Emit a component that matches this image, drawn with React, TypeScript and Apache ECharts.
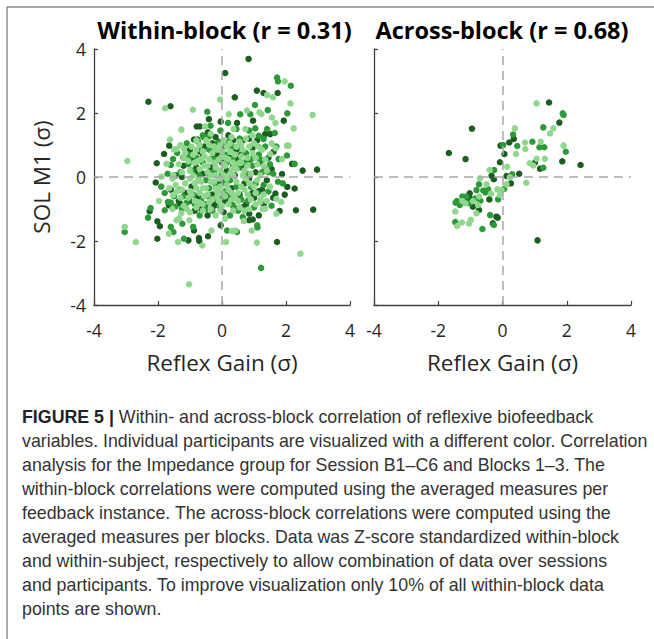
import React, { useEffect, useRef } from "react";
import * as echarts from "echarts";

// ---------- data ----------
const axisTicks = [-4, -2, 0, 2, 4];
const titles = ["Within-block (r = 0.31)", "Across-block (r = 0.68)"];
const xAxisName = "Reflex Gain (σ)";
const yAxisName = "SOL M1 (σ)";

const withinDark: number[][] = [
  [-2.3, 2.35], [-1.61, 2.21], [-0.41, 1.81], [-0.04, 1.73], [-0.79, 1.58], [-0.69, 1.58], [-0.44, 1.4], [-0.56, 1.24],
  [-0.875, 1.17], [-0.77, 1.17], [-1.65, 0.98], [-1.81, 0.72], [-1.21, 0.61], [-2.04, 0.43],
  [0.83, 3.69], [0.1, 3.25], [1.09, 2.7], [1.3, 2.625], [1.74, 2.625], [0.4, 2.49], [1.93, 1.76], [0.47, 1.69], [0.97, 1.76],
  [1.35, 1.34], [1.51, 1.34], [2.19, 0.41], [2.52, 0.2], [2.97, 0.23], [1.61, 0.79], [1.875, 0.09],
  [-2.07, -0.17], [-1.66, -0.885], [-2.26, -1.07], [-2.02, -1.385], [-1.94, -1.54], [-2.02, -1.93], [-1.05, -1.98],
  [-0.72, -1.91], [-0.71, -2.0], [-0.875, -1.67], [-0.4375, -1.85], [-1.31, -0.83], [-0.04, -1.51],
  [2.04, -0.31], [2.27, -0.36], [1.67, -0.52], [1.96, -0.55], [1.8, -1.06], [2.31, -1.04], [2.85, -1.02], [1.72, -2.03],
  [0.96, -1.33], [0.85, -1.35],
  [-1.2, 0.35], [-0.95, 0.55], [-0.7, 0.8], [-0.55, 0.95], [-0.3, 1.05], [-0.15, 0.7], [0.05, 0.95], [0.25, 0.6], [0.45, 0.85],
  [0.6, 0.3], [0.85, 0.55], [1.05, 0.15], [1.2, 0.45], [1.4, -0.1], [1.25, -0.4], [1.0, -0.65], [0.75, -0.85], [0.55, -0.55],
  [0.3, -0.35], [0.1, -0.75], [-0.1, -0.2], [-0.3, -0.55], [-0.5, -0.85], [-0.75, -0.6], [-0.95, -0.3], [-1.15, -0.5],
  [-1.35, -0.75], [-0.6, 0.1], [-0.35, 0.3], [0.15, 0.2], [0.4, 0.05], [0.7, -0.2], [0.95, 0.9], [0.65, 1.15], [0.2, 1.3],
  [-0.2, 1.25], [-0.85, -1.05], [-0.45, -1.2], [0.05, -1.1], [0.45, -1.0], [1.3, -0.85], [1.55, 0.25], [1.1, 1.15],
  [-1.45, 0.05], [-1.0, 0.85], [0.85, -1.15], [1.15, -1.2], [-1.6, -0.4], [0.0, 0.45], [-0.8, 0.3], [0.5, 0.55],
  [1.6, -0.65], [1.45, 0.6], [-0.25, -0.9], [0.2, -0.6],
  [-0.6, 0.65], [-0.4, 0.1], [-0.15, -0.45], [0.1, -0.15], [0.35, 0.35], [0.6, 0.7], [0.85, -0.05], [0.95, -0.5],
  [0.65, -0.95], [0.3, -0.85], [-0.2, -0.8], [-0.65, -1.0], [-1.0, -0.75], [-1.25, 0.0], [-0.85, 0.15], [-0.1, 1.1],
  [0.35, 1.15], [0.85, 1.2], [1.35, 0.25], [1.15, -0.45],
];

const withinMedium: number[][] = [
  [-0.46, 2.04], [-0.36, 1.6], [-0.41, 1.27], [-0.125, 1.08], [-1.53, 0.56], [-1.6, 0.375], [-0.98, 0.67],
  [1.72, 3.11], [1.75, 2.99], [2.15, 2.85], [1.03, 2.25], [0.57, 1.96], [0.885, 1.96], [1.43, 2.09], [2.04, 1.99],
  [0.19, 1.69], [1.04, 1.52], [1.41, 1.5], [1.65, 1.375], [1.15, 1.29], [1.3, 1.19], [1.77, 0.56], [2.03, 0.67], [2.27, 0.41],
  [-1.79, -0.5], [-1.69, -0.78], [-2.23, -0.97], [-2.31, -1.27], [-1.79, -1.04], [-3.04, -1.72], [-1.6, -1.56],
  [-1.52, -1.72], [-1.24, -1.46], [-1.19, -1.93], [-0.9, -1.56], [-1.45, -0.92],
  [1.75, -0.15], [1.1, -1.51], [1.11, -1.58], [1.22, -2.84], [0.47, -1.72], [0.16, -1.67],
  [-1.3, 0.15], [-1.05, 0.4], [-0.8, 0.6], [-0.6, 0.45], [-0.4, 0.85], [-0.2, 0.5], [0.1, 0.7], [0.3, 0.95], [0.55, 1.2],
  [0.75, 0.75], [0.95, 0.35], [1.15, 0.7], [1.35, 0.95], [1.5, 0.4], [1.3, -0.25], [1.1, -0.5], [0.9, -0.3], [0.6, -0.7],
  [0.35, -0.9], [0.1, -0.45], [-0.15, -0.65], [-0.4, -0.35], [-0.65, -0.75], [-0.9, -0.55], [-1.1, -0.8], [-1.3, -0.4],
  [-1.5, -0.6], [-1.25, -1.0], [-0.7, -1.2], [-0.3, -1.05], [0.25, -1.2], [0.65, -1.25], [1.0, -0.95], [1.45, -0.45],
  [1.6, 0.1], [1.7, 0.95], [0.85, 1.45], [0.45, 1.5], [-0.05, 1.45], [-0.6, 1.3], [-1.1, 1.05], [-1.4, 0.75], [0.0, 0.1],
  [0.5, 0.3], [-0.5, -0.1], [0.25, -0.1], [-0.25, 0.15], [0.8, 0.1], [1.9, -0.2], [-1.7, 0.1], [-1.9, -0.3], [0.45, -0.3],
  [-0.05, -0.95], [0.7, 0.45], [1.25, 0.15],
  [-0.95, 0.2], [-0.7, 0.05], [-0.45, -0.6], [-0.2, -0.25], [0.05, -0.2], [0.35, 0.6], [0.6, 0.9], [0.9, 0.55],
  [1.05, -0.2], [0.8, -0.75], [0.5, -1.05], [0.0, -0.65], [-0.5, -1.0], [-0.85, -0.85], [-1.2, -0.6], [-1.05, 0.7],
  [-0.75, 1.1], [-0.3, 0.95], [0.2, 1.1], [1.2, 0.55], [1.45, 0.15], [1.55, -0.9], [-1.6, -0.8], [-0.3, 0.6], [0.15, 0.45],
];

const withinLight: number[][] = [
  [-1.78, 2.15], [-0.91, 2.1], [-0.06, 2.42], [-1.27, 1.48], [-0.53, 1.58], [-1.625, 1.17], [-2.96, 0.5], [-1.73, 0.41],
  [-1.42, 0.875], [-1.19, 0.9], [-1.5, 0.85], [-1.89, 0.01], [-1.52, 0.06],
  [1.96, 2.99], [1.41, 2.56], [1.59, 2.49], [2.14, 2.3], [2.83, 1.94], [1.17, 2.02], [1.23, 1.97], [1.56, 1.86], [1.67, 1.69],
  [2.24, 1.52], [0.78, 2.08], [0.21, 1.96], [0.36, 1.5], [0.73, 1.5], [2.03, 0.98], [2.08, 0.98], [1.67, 0.9], [1.875, 0.56],
  [1.51, 0.72],
  [-1.53, -0.57], [-1.97, -0.75], [-3.04, -1.56], [-2.69, -2.03], [-1.66, -1.77], [-1.42, -1.35], [-1.375, -2.03],
  [-1.03, -3.35], [-0.615, -2.14], [-0.33, -1.67], [-1.27, -1.125], [-1.34, -1.3], [-1.02, -1.35],
  [1.85, -0.78], [1.7, -0.68], [1.7, -1.15], [1.35, -0.99], [1.27, -1.0], [0.93, -1.67], [1.09, -2.05], [0.125, -2.03],
  [2.45, -2.4], [0.68, -1.375], [0.42, -1.67], [0.31, -1.69], [1.2, -0.78],
  [-1.2, 0.6], [-1.0, 0.2], [-0.85, 0.45], [-0.7, 0.25], [-0.55, 0.65], [-0.45, 0.35], [-0.3, 0.75], [-0.2, 0.3], [-0.1, 0.55],
  [0.0, 0.8], [0.1, 0.35], [0.2, 0.55], [0.3, 0.25], [0.4, 0.7], [0.55, 0.45], [0.65, 0.85], [0.8, 0.6], [0.95, 0.75],
  [1.1, 0.4], [1.25, 0.85], [1.4, 0.2], [1.1, -0.1], [0.9, 0.1], [0.75, -0.05], [0.6, -0.3], [0.45, -0.15], [0.3, -0.5],
  [0.15, -0.25], [0.0, -0.5], [-0.1, -0.05], [-0.2, -0.35], [-0.35, -0.15], [-0.45, -0.55], [-0.6, -0.35], [-0.75, -0.1],
  [-0.85, -0.75], [-1.0, -0.45], [-1.15, -0.2], [-1.3, -0.65], [-1.45, -0.25], [-1.2, -0.9], [-1.0, -1.1], [-0.8, -0.95],
  [-0.6, -1.05], [-0.4, -0.8], [-0.2, -1.2], [0.0, -0.9], [0.2, -0.85], [0.4, -0.65], [0.55, -0.95], [0.8, -0.55],
  [1.0, -0.3], [1.2, -0.7], [0.85, -1.0], [-0.7, 1.0], [-0.5, 1.15], [-0.25, 0.95], [0.05, 1.15], [0.3, 1.25], [0.6, 1.0],
  [-0.95, 0.95], [-1.15, 0.75], [-1.35, 0.4], [-1.55, -0.05], [-1.65, -0.35], [-0.65, 0.55], [-0.35, 0.05], [0.05, 0.05],
  [0.35, 0.45], [-0.05, -0.3], [0.25, 0.1], [-0.55, -0.6], [0.7, 0.2], [-0.9, 0.05], [1.5, -0.3], [1.35, 0.55], [0.15, 0.95],
  [-0.15, -0.6], [-0.8, -0.35], [0.5, -0.5], [1.0, 1.05], [0.95, 1.3], [-0.35, 1.35], [0.1, -1.3], [-1.55, -1.0],
  [1.55, 1.05], [-0.2, 0.05], [0.45, 0.95], [-1.05, -0.65], [0.6, 0.65],
  [-0.9, 0.7], [-0.75, 0.5], [-0.6, 0.8], [-0.4, 0.55], [-0.15, 0.85], [0.1, 0.6], [0.25, 0.8], [0.45, 0.25], [0.6, 0.45],
  [0.8, 0.35], [0.35, 0.05], [0.15, -0.05], [-0.05, 0.2], [-0.25, -0.15], [-0.45, 0.15], [-0.65, -0.15], [-0.85, -0.2],
  [-0.95, -0.55], [-0.7, -0.5], [-0.5, -0.35], [-0.3, -0.7], [-0.1, -0.75], [0.1, -0.6], [0.3, -0.7], [0.5, -0.75],
  [0.7, -0.4], [0.9, -0.7], [1.05, -0.5], [1.2, 0.05], [1.05, 0.6], [0.85, 0.95], [0.55, 1.1], [0.25, 1.05], [-0.05, 1.0],
  [-0.4, 1.0], [-0.8, 1.15], [-1.05, 0.5], [-1.25, 0.15], [-1.4, -0.45], [-1.25, -0.4], [-1.1, -1.0], [-0.7, -0.8],
  [-0.35, -1.0], [-0.05, -1.05], [0.35, -1.05], [0.7, -1.05], [1.05, -0.85], [1.3, -0.55], [1.3, 0.35], [1.15, 0.95],
  [-0.55, 0.35], [-0.25, 0.45], [0.05, 0.4], [0.4, 0.35], [0.65, 0.05], [-0.15, -0.45], [-0.6, -0.85], [0.2, -0.4],
  [0.85, -0.2], [-1.0, -0.05], [0.0, 0.65], [-0.8, 0.85], [0.75, 1.2], [-1.3, 1.0], [1.4, -0.75],
];

const acrossDark: number[][] = [
  [1.45, 2.33], [1.77, 1.7], [-0.95, 1.51], [0.35, 1.19], [0.21, 1.08], [-0.06, 0.98], [-1.67, 0.75], [-1.15, 0.56],
  [0.06, 0.72], [1.01, 0.45], [1.86, 0.49], [2.43, 0.375], [-0.08, 0.46], [1.17, 0.26], [-0.34, 0.04], [0.52, 0.1],
  [0.125, 0.03], [-0.27, -0.07], [0.26, -0.2], [-1.02, -0.51], [-1.04, -0.635], [-1.09, -0.77], [-0.92, -0.93],
  [-0.73, -1.03], [-0.41, -0.7], [-0.19, -1.24], [-0.15, -1.27], [-0.3, -1.45], [1.09, -1.98],
];
const acrossMedium: number[][] = [
  [1.875, 1.99], [1.9, 1.94], [1.27, 1.55], [0.33, 1.33], [0.02, 1.0], [0.46, 0.97], [0.93, 1.1], [1.15, 0.93], [1.3, 0.93],
  [1.97, 0.79], [1.27, 0.29], [-0.26, 0.22], [0.3, 0.083], [-0.73, -0.23], [-0.45, -0.375], [-0.6, -0.42], [-0.81, -0.41],
  [0.05, -0.375], [-0.53, -0.48], [-1.25, -0.61], [-1.42, -0.75], [-1.46, -0.8], [-1.125, -0.61], [-0.86, -0.67],
  [-0.69, -0.74], [-1.33, -0.875], [-1.02, -0.82], [-0.135, -0.7], [-0.385, -1.19], [-1.47, -1.41], [-0.27, -1.5],
  [-0.625, -1.625],
];
const acrossLight: number[][] = [
  [1.06, 2.3], [1.58, 1.52], [1.48, 1.36], [0.385, 1.52], [0.7, 1.08], [0.71, 0.875], [1.19, 1.1], [1.9, 0.98],
  [0.42, 0.72], [1.06, 0.57], [1.32, 0.57], [0.85, 0.43], [0.96, 0.36], [0.146, 0.32], [-0.4, 0.22], [-0.7, -0.04],
  [0.23, -0.01], [0.74, -0.18], [0.125, -0.23], [-0.5, -0.23], [-0.16, -0.385], [-0.36, -0.52], [-0.73, -0.61],
  [-0.92, -0.75], [-1.25, -0.75], [-1.15, -0.82], [-0.76, -0.875], [-0.08, -0.56], [-0.81, -1.135], [-1.47, -1.08],
  [-1.41, -1.53], [-1.26, -1.42], [-1.04, -1.45], [-0.99, -1.34], [-0.03, -0.41],
];

const captionLines = [
  "{b|FIGURE 5 |} Within- and across-block correlation of reflexive biofeedback",
  "variables. Individual participants are visualized with a different color. Correlation",
  "analysis for the Impedance group for Session B1–C6 and Blocks 1–3. The",
  "within-block correlations were computed using the averaged measures per",
  "feedback instance. The across-block correlations were computed using the",
  "averaged measures per blocks. Data was Z-score standardized within-block",
  "and within-subject, respectively to allow combination of data over sessions",
  "and participants. To improve visualization only 10% of all within-block data",
  "points are shown.",
];

const COLORS = { dark: "#1b5e20", medium: "#2c9a38", light: "#8fd78d" };
const FONT = "Open Sans";
const CAP_FONT = "Liberation Sans";
const TXT = "#262626";
const AX = "#404040";

export default function App() {
  const ref = useRef<HTMLDivElement>(null);
  useEffect(() => {
    if (!ref.current) return;
    const chart = echarts.init(ref.current, undefined, { renderer: "svg" });

    const grids = [
      { left: 94, top: 49, width: 256, height: 256 },
      { left: 374, top: 49, width: 257, height: 256 },
    ];
    const mkX = (i: number) => ({
      gridIndex: i,
      type: "value",
      min: axisTicks[0],
      max: axisTicks[axisTicks.length - 1],
      interval: 2,
      splitLine: { show: false },
      axisLine: { onZero: false, lineStyle: { color: AX, width: 1.3 } },
      axisTick: { inside: true, length: 4, lineStyle: { color: AX, width: 1.2 } },
      axisLabel: { fontSize: 17.5, color: TXT, fontFamily: FONT, margin: 16 },
      name: xAxisName,
      nameLocation: "middle",
      nameGap: 57,
      nameTextStyle: { fontSize: 22.5, color: TXT, fontFamily: FONT, verticalAlign: "middle" },
    });
    const mkY = (i: number) => ({
      gridIndex: i,
      type: "value",
      min: axisTicks[0],
      max: axisTicks[axisTicks.length - 1],
      interval: 2,
      splitLine: { show: false },
      axisLine: { onZero: false, lineStyle: { color: AX, width: 1.3 } },
      axisTick: { inside: true, length: 4, lineStyle: { color: AX, width: 1.2 } },
      axisLabel: { show: i === 0, fontSize: 17.5, color: TXT, fontFamily: FONT, margin: 8 },
      name: i === 0 ? yAxisName : "",
      nameLocation: "middle",
      nameGap: 53,
      nameTextStyle: { fontSize: 22.5, color: TXT, fontFamily: FONT, verticalAlign: "middle" },
    });

    const zeroLines = (i: number) => ({
      type: "scatter",
      xAxisIndex: i,
      yAxisIndex: i,
      data: [],
      z: 1,
      silent: true,
      markLine: {
        silent: true,
        symbol: ["none", "none"],
        label: { show: false },
        lineStyle: { type: [9, 6], color: "#a8a8a8", width: 1.5 },
        data: [{ xAxis: 0 }, { yAxis: 0 }],
      },
    });
    const sc = (i: number, data: number[][], color: string) => ({
      type: "scatter",
      xAxisIndex: i,
      yAxisIndex: i,
      data,
      symbolSize: 6.5,
      z: 2,
      itemStyle: { color, opacity: 1 },
    });

    const captionGraphics = captionLines.map((t, k) => ({
      type: "text",
      x: 22,
      y: 416.5 + k * 24,
      style: {
        text: t,
        fontFamily: CAP_FONT,
        fontSize: 17.8,
        fill: "#333333",
        align: "left",
        verticalAlign: "middle",
        rich: { b: { fontFamily: CAP_FONT, fontSize: 17.8, fontWeight: "bold", fill: "#222222" } },
      },
    }));

    chart.setOption({
      animation: false,
      backgroundColor: "#ffffff",
      grid: grids,
      xAxis: [mkX(0), mkX(1)],
      yAxis: [mkY(0), mkY(1)],
      series: [
        zeroLines(0),
        zeroLines(1),
        sc(0, withinDark, COLORS.dark),
        sc(0, withinMedium, COLORS.medium),
        sc(0, withinLight, COLORS.light),
        sc(1, acrossDark, COLORS.dark),
        sc(1, acrossMedium, COLORS.medium),
        sc(1, acrossLight, COLORS.light),
      ],
      graphic: [
        { type: "line", shape: { x1: 7, y1: 7, x2: 654, y2: 7 }, style: { stroke: "#8c8c8c", lineWidth: 1.5 } },
        { type: "line", shape: { x1: 7, y1: 7, x2: 7, y2: 639 }, style: { stroke: "#8c8c8c", lineWidth: 1.5 } },
        {
          type: "text", x: 224.5, y: 30,
          style: { text: titles[0], fontFamily: FONT, fontWeight: "bold", fontSize: 23.5, fill: "#000", align: "center", verticalAlign: "middle" },
        },
        {
          type: "text", x: 502, y: 30,
          style: { text: titles[1], fontFamily: FONT, fontWeight: "bold", fontSize: 23.5, fill: "#000", align: "center", verticalAlign: "middle" },
        },
        ...captionGraphics,
      ],
    });
    return () => chart.dispose();
  }, []);
  return <div ref={ref} style={{ position: "absolute", left: 0, top: 0, width: 654, height: 639 }} />;
}
